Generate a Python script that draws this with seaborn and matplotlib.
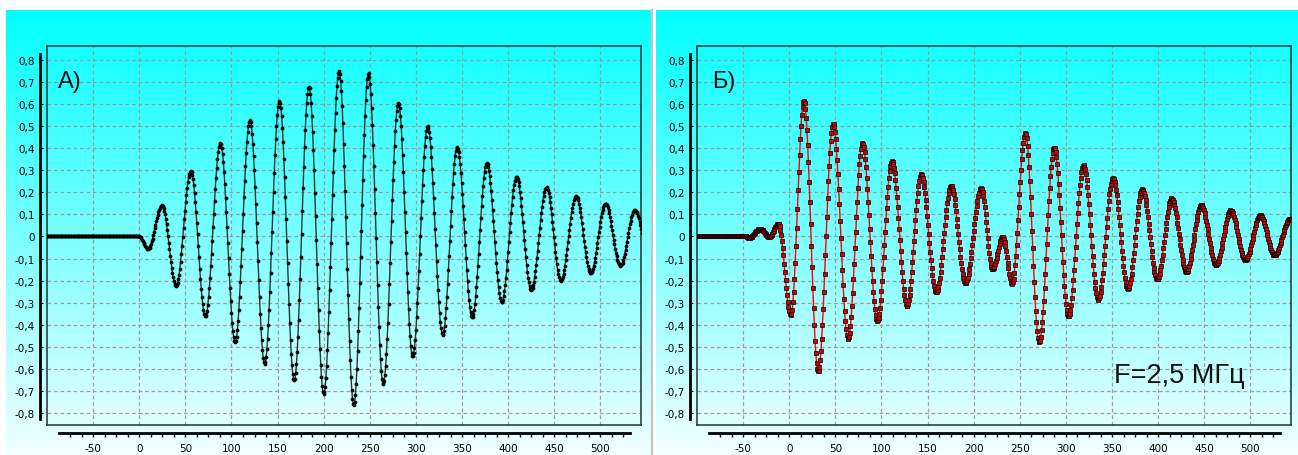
import numpy as np
import matplotlib
matplotlib.use("Agg")
import matplotlib.pyplot as plt
import seaborn as sns
from matplotlib.ticker import FixedLocator, FuncFormatter

# ---- data: extrema of each waveform (time, amplitude) ----
a_ext_t = [-100, 0, 9.5, 24.7, 40, 56, 71.7, 88, 104, 120, 136, 152, 168, 184, 200,
           216.7, 232.6, 248.5, 264.5, 281, 296.4, 312.7, 329, 344.6, 361, 376.8,
           393, 409, 425, 441.6, 457, 473.6, 489.5, 505.4, 521.7, 537.3, 553]
a_ext_v = [0, 0, -0.056, 0.141, -0.223, 0.297, -0.362, 0.423, -0.48, 0.527, -0.577,
           0.615, -0.653, 0.68, -0.714, 0.749, -0.765, 0.741, -0.668, 0.605, -0.544,
           0.50, -0.445, 0.406, -0.367, 0.332, -0.297, 0.27, -0.241, 0.224, -0.2,
           0.183, -0.165, 0.149, -0.132, 0.12, -0.10]

b_ext_t = [-100, -46, -44, -31.7, -21.6, -11.9, 1.8, 15.9, 31.4, 47.6, 63.8, 79.3,
           95.5, 111.4, 127.6, 143, 159.3, 175.5, 191, 208, 220.5, 231.4, 241.5, 256,
           271, 287.3, 302.7, 319, 335, 351, 367.3, 382.7, 399, 414.5, 430.7, 446.5,
           462.7, 478.6, 494.5, 510.7, 526, 543, 559]
b_ext_v = [0, 0, -0.008, 0.035, -0.003, 0.058, -0.355, 0.614, -0.612, 0.512, -0.465,
           0.423, -0.382, 0.342, -0.314, 0.282, -0.253, 0.229, -0.211, 0.218, -0.147,
           0.0, -0.214, 0.471, -0.48, 0.403, -0.362, 0.323, -0.286, 0.264, -0.236,
           0.214, -0.195, 0.173, -0.16, 0.142, -0.13, 0.118, -0.108, 0.097, -0.086,
           0.08, -0.07]

sample_step = 0.8
x_major = [-50, 0, 50, 100, 150, 200, 250, 300, 350, 400, 450, 500]
y_major = [-0.8, -0.7, -0.6, -0.5, -0.4, -0.3, -0.2, -0.1, 0, 0.1, 0.2, 0.3, 0.4,
           0.5, 0.6, 0.7, 0.8]
panel_labels = ["А)", "Б)"]
freq_label = "F=2,5 МГц"


def sampled(ext_t, ext_v, t0=-100, t1=545):
    et = np.asarray(ext_t, float)
    ev = np.asarray(ext_v, float)
    t = np.arange(t0, t1, sample_step)
    k = np.clip(np.searchsorted(et, t, side="right") - 1, 0, len(et) - 2)
    u = (t - et[k]) / (et[k + 1] - et[k])
    y = ev[k] + (ev[k + 1] - ev[k]) * (1 - np.cos(np.pi * u)) / 2
    return t, y


plt.rcParams["axes.unicode_minus"] = False
plt.rcParams["font.family"] = ["DejaVu Sans"]

W, H = 1298, 456
fig = plt.figure(figsize=(W / 100, H / 100), dpi=100)
fig.patch.set_facecolor("white")

grad = np.linspace(0, 1, 256)[:, None]
cmap_img = np.zeros((256, 1, 3))
cmap_img[:, 0, 0] = grad[:, 0] * 242 / 255
cmap_img[:, 0, 1] = 1.0
cmap_img[:, 0, 2] = 1.0

def px_rect(x0, y0, x1, y1):
    return [x0 / W, 1 - y1 / H, (x1 - x0) / W, (y1 - y0) / H]

for bx0, bx1 in [(6, 651), (656, 1298)]:
    bg = fig.add_axes(px_rect(bx0, 11, bx1, 456), zorder=0)
    bg.imshow(cmap_img, aspect="auto", extent=[0, 1, 0, 1], origin="upper")
    bg.set_axis_off()

fig.add_artist(plt.Line2D([652.5 / W, 652.5 / W], [0, 1 - 11 / H],
                          transform=fig.transFigure, color="#c4c4c4", lw=1.6))

panels = [
    dict(rect=px_rect(47, 47, 641, 426), t=a_ext_t, v=a_ext_v, line="#1e3a3a",
         marker="o", mfc="black", mec="black", ms=2.2),
    dict(rect=px_rect(697, 47, 1291, 426), t=b_ext_t, v=b_ext_v, line="#ff0000",
         marker="s", mfc="#d00000", mec="black", ms=2.2),
]

def yfmt(v, pos):
    if abs(v) < 1e-9:
        return "0"
    return f"{v:.1f}".replace(".", ",")

for i, p in enumerate(panels):
    ax = fig.add_axes(p["rect"], zorder=2)
    ax.set_facecolor("none")
    t, y = sampled(p["t"], p["v"])
    sns.lineplot(x=t, y=y, ax=ax, sort=False, estimator=None, color=p["line"],
                 lw=1.0, marker=p["marker"], markersize=p["ms"],
                 markerfacecolor=p["mfc"], markeredgecolor=p["mec"],
                 markeredgewidth=0.5, zorder=3)
    ax.set_xlim(-100, 544)
    ax.set_ylim(-0.855, 0.864)
    ax.xaxis.set_major_locator(FixedLocator(x_major))
    ax.yaxis.set_major_locator(FixedLocator(y_major))
    ax.grid(True, color="#9c9494", linestyle=(0, (3, 2.2)), lw=0.9, alpha=0.9)
    ax.tick_params(length=0, labelbottom=False, labelleft=False)
    ax.set_xlabel("")
    ax.set_ylabel("")
    for s in ax.spines.values():
        s.set_color("#1a3434")
        s.set_linewidth(1.1)

    sx = ax.secondary_xaxis(-0.021)
    sx.spines["bottom"].set_linewidth(2.0)
    sx.spines["bottom"].set_bounds(-87.5, 532)
    sx.xaxis.set_major_locator(FixedLocator(x_major))
    sx.xaxis.set_minor_locator(FixedLocator(list(np.arange(-75, 530, 12.5))))
    sx.tick_params(axis="x", which="both", direction="out", length=3, width=1,
                   labelsize=7.5, pad=4)
    sx.set_xticklabels([str(v) for v in x_major])

    sy = ax.secondary_yaxis(-0.0118)
    sy.spines["left"].set_linewidth(2.0)
    sy.spines["left"].set_bounds(-0.827, 0.827)
    sy.yaxis.set_major_locator(FixedLocator(y_major))
    sy.yaxis.set_major_formatter(FuncFormatter(yfmt))
    sy.tick_params(axis="y", direction="in", length=2, width=0.8,
                   labelsize=7.5, pad=3.5)

    ax.text(0.019 if i == 0 else 0.0247, 0.892, panel_labels[i],
            transform=ax.transAxes, ha="left", va="baseline", fontsize=17,
            family=["Liberation Sans", "DejaVu Sans"], color="#111111", zorder=5)
    if i == 1:
        ax.text(0.702, 0.113, freq_label, transform=ax.transAxes, ha="left",
                va="baseline", fontsize=19.5,
                family=["Liberation Sans", "DejaVu Sans"], color="#111111", zorder=5)

fig.savefig("out.png", dpi=100)
